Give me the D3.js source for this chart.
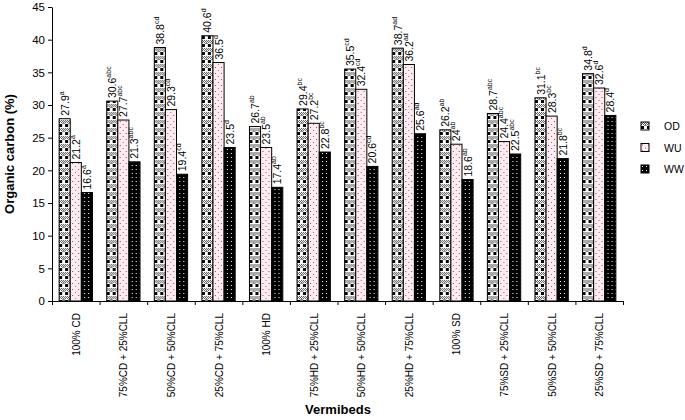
<!DOCTYPE html>
<html>
<head>
<meta charset="utf-8">
<script src="https://cdn.jsdelivr.net/npm/d3@7"></script>
<style>
  body { margin: 0; background: #fff; }
  svg text { font-family: "Liberation Sans", Arial, sans-serif; }
</style>
</head>
<body>
<svg id="chart" width="685" height="420"></svg>
<script>
// données
const categories = ["100% CD", "75%CD + 25%CLL", "50%CD + 50%CLL", "25%CD + 75%CLL",
  "100% HD", "75%HD + 25%CLL", "50%HD + 50%CLL", "25%HD + 75%CLL",
  "100% SD", "75%SD + 25%CLL", "50%SD + 50%CLL", "25%SD + 75%CLL"];
const seriesNames = ["OD", "WU", "WW"];
const odValues = [27.9, 30.6, 38.8, 40.6, 26.7, 29.4, 35.5, 38.7, 26.2, 28.7, 31.1, 34.8];
const wuValues = [21.2, 27.7, 29.3, 36.5, 23.5, 27.2, 32.4, 36.2, 24, 24.4, 28.3, 32.6];
const wwValues = [16.6, 21.3, 19.4, 23.5, 17.4, 22.8, 20.6, 25.6, 18.6, 22.5, 21.8, 28.4];
const letters = ["a", "abc", "cd", "d", "ab", "bc", "cd", "ad", "ab", "abc", "bc", "d"];
const yTicks = [0, 5, 10, 15, 20, 25, 30, 35, 40, 45];

const margin = { left: 52, right: 62, top: 7, bottom: 119 };
const width = 685, height = 420;
const svg = d3.select("#chart");

// motifs des barres
const defs = svg.append("defs");
const pOD = defs.append("pattern").attr("id", "pat-OD")
  .attr("patternUnits", "userSpaceOnUse").attr("width", 6).attr("height", 8);
pOD.append("rect").attr("width", 6).attr("height", 8).attr("fill", "#fff");
// bande grise en damier
[[0,0],[2,0],[4,0],[1,1],[3,1],[5,1],[0,2],[2,2],[4,2]].forEach(([x, y]) =>
  pOD.append("rect").attr("x", x).attr("y", y).attr("width", 1).attr("height", 1).attr("fill", "#555"));
pOD.append("rect").attr("x", 0).attr("y", 4).attr("width", 3).attr("height", 3).attr("fill", "#000");
pOD.append("rect").attr("x", 3).attr("y", 3).attr("width", 3).attr("height", 1).attr("fill", "#888");

const pWU = defs.append("pattern").attr("id", "pat-WU")
  .attr("patternUnits", "userSpaceOnUse").attr("width", 6).attr("height", 6);
pWU.append("rect").attr("width", 6).attr("height", 6).attr("fill", "#fbeef2");
pWU.append("rect").attr("x", 1).attr("y", 1).attr("width", 1).attr("height", 1).attr("fill", "#c8245a");
pWU.append("rect").attr("x", 4).attr("y", 4).attr("width", 1).attr("height", 1).attr("fill", "#d0507a");

const pWW = defs.append("pattern").attr("id", "pat-WW")
  .attr("patternUnits", "userSpaceOnUse").attr("width", 4).attr("height", 4);
pWW.append("rect").attr("width", 4).attr("height", 4).attr("fill", "#000");
pWW.append("rect").attr("x", 1).attr("y", 1).attr("width", 1).attr("height", 1).attr("fill", "#fff");

const x0 = d3.scaleBand().domain(categories)
  .range([margin.left, width - margin.right]).paddingInner(0.3).paddingOuter(0.15);
const x1 = d3.scaleBand().domain(seriesNames).range([0, x0.bandwidth()]);
const bounds = d3.scaleLinear().domain([0, categories.length]).range([margin.left, width - margin.right]);
const y = d3.scaleLinear().domain([0, 45]).range([height - margin.bottom, margin.top]);

const table = categories.map((c, i) => ({
  cat: c, letter: letters[i],
  vals: [
    { s: "OD", v: odValues[i] },
    { s: "WU", v: wuValues[i] },
    { s: "WW", v: wwValues[i] }
  ]
}));

const groups = svg.selectAll(".grp").data(table).join("g")
  .attr("class", "grp")
  .attr("transform", d => `translate(${x0(d.cat)},0)`);

groups.selectAll("rect").data(d => d.vals).join("rect")
  .attr("x", d => x1(d.s))
  .attr("y", d => y(d.v))
  .attr("width", x1.bandwidth())
  .attr("height", d => y(0) - y(d.v))
  .attr("fill", d => `url(#pat-${d.s})`)
  .attr("stroke", "#000")
  .attr("stroke-width", 1);

// étiquettes des valeurs avec lettres en exposant
const lab = groups.selectAll(".val").data(d => d.vals.map(v => ({ ...v, letter: d.letter }))).join("text")
  .attr("class", "val")
  .attr("transform", d => `translate(${x1(d.s) + x1.bandwidth() / 2 + 4},${y(d.v) - 3}) rotate(-90)`)
  .attr("font-size", 10.5);
lab.append("tspan").text(d => d.v);
lab.append("tspan").attr("font-size", 7).attr("dy", -5).text(d => d.letter);

// axes
svg.append("g")
  .attr("transform", `translate(${margin.left},0)`)
  .call(d3.axisLeft(y).tickValues(yTicks).tickSize(4).tickSizeOuter(0))
  .call(g => g.selectAll("text").attr("font-size", 11.5).attr("fill", "#000"))
  .call(g => g.selectAll("line,path").attr("stroke", "#000"));

svg.append("g")
  .attr("transform", `translate(0,${y(0)})`)
  .call(d3.axisBottom(bounds).tickValues(d3.range(0, categories.length + 1)).tickFormat("").tickSize(4).tickSizeOuter(0))
  .call(g => g.selectAll("line,path").attr("stroke", "#000"));

svg.selectAll(".xlab").data(categories).join("text")
  .attr("class", "xlab")
  .attr("transform", d => `translate(${x0(d) + x0.bandwidth() / 2 + 4},313) rotate(-90)`)
  .attr("text-anchor", "end")
  .attr("font-size", 10)
  .text(d => d);

// titres
svg.append("text")
  .attr("transform", `translate(14,${(y(0) + y(45)) / 2}) rotate(-90)`)
  .attr("text-anchor", "middle")
  .attr("font-size", 13).attr("font-weight", "bold")
  .text("Organic carbon (%)");

svg.append("text")
  .attr("x", 338).attr("y", 414)
  .attr("text-anchor", "middle")
  .attr("font-size", 13).attr("font-weight", "bold")
  .text("Vermibeds");

// légende
const leg = svg.selectAll(".leg").data(seriesNames).join("g")
  .attr("class", "leg")
  .attr("transform", (d, i) => `translate(641,${122 + i * 21.5})`);
leg.append("rect").attr("width", 8).attr("height", 8)
  .attr("fill", d => `url(#pat-${d})`).attr("stroke", "#000");
leg.append("text").attr("x", 23).attr("y", 8).attr("font-size", 10.5).text(d => d);
</script>
</body>
</html>
